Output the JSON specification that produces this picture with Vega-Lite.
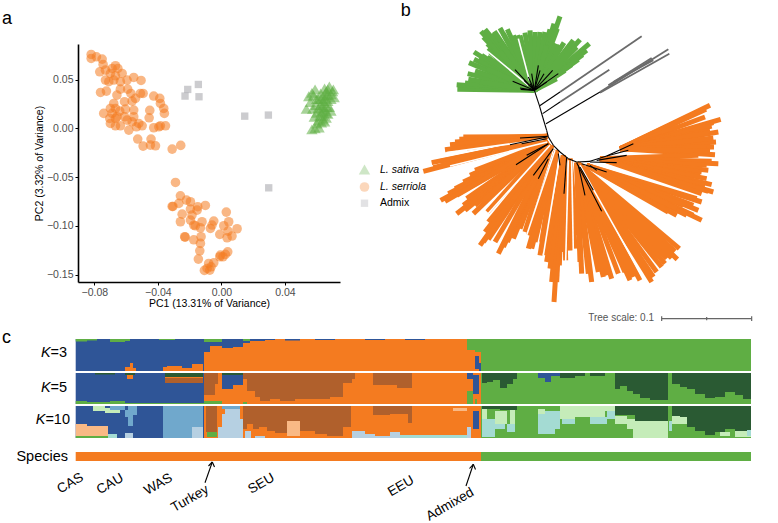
{"$schema":"https://vega.github.io/schema/vega-lite/v6.json","padding":{"left":1,"top":2,"right":0,"bottom":0},"spacing":6,"resolve":{"scale":{"color":"independent","shape":"independent","size":"independent"},"legend":{"color":"independent","shape":"independent","size":"independent"}},"config":{"view":{"stroke":null},"font":"Liberation Sans"},"vconcat":[{"hconcat":[
{"width":262,"height":238,"layer":[
{"data":{"values":[
{"sp":"L. serriola","pc1":-0.082,"pc2":0.0759},{"sp":"L. serriola","pc1":-0.082,"pc2":0.0718},{"sp":"L. serriola","pc1":-0.0787,"pc2":0.0735},{"sp":"L. serriola","pc1":-0.0751,"pc2":0.0711},{"sp":"L. serriola","pc1":-0.0745,"pc2":0.0656},{"sp":"L. serriola","pc1":-0.0766,"pc2":0.0581},{"sp":"L. serriola","pc1":-0.073,"pc2":0.0598},{"sp":"L. serriola","pc1":-0.0667,"pc2":0.0643},{"sp":"L. serriola","pc1":-0.0688,"pc2":0.0615},{"sp":"L. serriola","pc1":-0.0652,"pc2":0.0615},{"sp":"L. serriola","pc1":-0.0699,"pc2":0.0564},{"sp":"L. serriola","pc1":-0.0625,"pc2":0.0564},{"sp":"L. serriola","pc1":-0.0667,"pc2":0.054},{"sp":"L. serriola","pc1":-0.073,"pc2":0.0496},{"sp":"L. serriola","pc1":-0.0709,"pc2":0.0479},{"sp":"L. serriola","pc1":-0.0678,"pc2":0.0496},{"sp":"L. serriola","pc1":-0.0636,"pc2":0.0479},{"sp":"L. serriola","pc1":-0.0552,"pc2":0.0523},{"sp":"L. serriola","pc1":-0.0506,"pc2":0.0492},{"sp":"L. serriola","pc1":-0.0594,"pc2":0.0496},{"sp":"L. serriola","pc1":-0.059,"pc2":0.0403},{"sp":"L. serriola","pc1":-0.0636,"pc2":0.0403},{"sp":"L. serriola","pc1":-0.0761,"pc2":0.0369},{"sp":"L. serriola","pc1":-0.0724,"pc2":0.0383},{"sp":"L. serriola","pc1":-0.0658,"pc2":0.0342},{"sp":"L. serriola","pc1":-0.057,"pc2":0.0359},{"sp":"L. serriola","pc1":-0.051,"pc2":0.0359},{"sp":"L. serriola","pc1":-0.0493,"pc2":0.0359},{"sp":"L. serriola","pc1":-0.0426,"pc2":0.0332},{"sp":"L. serriola","pc1":-0.0388,"pc2":0.0308},{"sp":"L. serriola","pc1":-0.0541,"pc2":0.0308},{"sp":"L. serriola","pc1":-0.0678,"pc2":0.0256},{"sp":"L. serriola","pc1":-0.061,"pc2":0.0274},{"sp":"L. serriola","pc1":-0.0562,"pc2":0.028},{"sp":"L. serriola","pc1":-0.0384,"pc2":0.0256},{"sp":"L. serriola","pc1":-0.0363,"pc2":0.0205},{"sp":"L. serriola","pc1":-0.0359,"pc2":0.0154},{"sp":"L. serriola","pc1":-0.0451,"pc2":0.0185},{"sp":"L. serriola","pc1":-0.0455,"pc2":0.0109},{"sp":"L. serriola","pc1":-0.0699,"pc2":0.0205},{"sp":"L. serriola","pc1":-0.0667,"pc2":0.0205},{"sp":"L. serriola","pc1":-0.0741,"pc2":0.0154},{"sp":"L. serriola","pc1":-0.0688,"pc2":0.0154},{"sp":"L. serriola","pc1":-0.064,"pc2":0.0178},{"sp":"L. serriola","pc1":-0.0604,"pc2":0.0198},{"sp":"L. serriola","pc1":-0.0552,"pc2":0.0188},{"sp":"L. serriola","pc1":-0.061,"pc2":0.012},{"sp":"L. serriola","pc1":-0.0657,"pc2":0.012},{"sp":"L. serriola","pc1":-0.0552,"pc2":0.012},{"sp":"L. serriola","pc1":-0.0699,"pc2":0.0051},{"sp":"L. serriola","pc1":-0.0667,"pc2":0.0103},{"sp":"L. serriola","pc1":-0.0636,"pc2":0.0027},{"sp":"L. serriola","pc1":-0.0667,"pc2":0.0027},{"sp":"L. serriola","pc1":-0.0583,"pc2":-0.0017},{"sp":"L. serriola","pc1":-0.0562,"pc2":0.0068},{"sp":"L. serriola","pc1":-0.052,"pc2":0.0051},{"sp":"L. serriola","pc1":-0.0535,"pc2":0.0017},{"sp":"L. serriola","pc1":-0.0499,"pc2":0.0027},{"sp":"L. serriola","pc1":-0.0594,"pc2":0.0085},{"sp":"L. serriola","pc1":-0.0703,"pc2":0.0103},{"sp":"L. serriola","pc1":-0.0426,"pc2":0.0007},{"sp":"L. serriola","pc1":-0.0384,"pc2":0.0027},{"sp":"L. serriola","pc1":-0.0352,"pc2":0.0027},{"sp":"L. serriola","pc1":-0.0394,"pc2":0.0017},{"sp":"L. serriola","pc1":-0.0527,"pc2":-0.0109},{"sp":"L. serriola","pc1":-0.0443,"pc2":-0.0109},{"sp":"L. serriola","pc1":-0.0493,"pc2":-0.0181},{"sp":"L. serriola","pc1":-0.0447,"pc2":-0.0171},{"sp":"L. serriola","pc1":-0.0415,"pc2":-0.0178},{"sp":"L. serriola","pc1":-0.031,"pc2":-0.0212},{"sp":"L. serriola","pc1":-0.0256,"pc2":-0.0174},
{"sp":"L. serriola","pc1":-0.0289,"pc2":-0.0554},{"sp":"L. serriola","pc1":-0.0258,"pc2":-0.0691},{"sp":"L. serriola","pc1":-0.031,"pc2":-0.08},{"sp":"L. serriola","pc1":-0.0305,"pc2":-0.08},{"sp":"L. serriola","pc1":-0.0268,"pc2":-0.0769},{"sp":"L. serriola","pc1":-0.022,"pc2":-0.0735},{"sp":"L. serriola","pc1":-0.0195,"pc2":-0.0752},{"sp":"L. serriola","pc1":-0.0247,"pc2":-0.0879},{"sp":"L. serriola","pc1":-0.0258,"pc2":-0.0957},{"sp":"L. serriola","pc1":-0.0195,"pc2":-0.0827},{"sp":"L. serriola","pc1":-0.0149,"pc2":-0.0803},{"sp":"L. serriola","pc1":-0.0101,"pc2":-0.079},{"sp":"L. serriola","pc1":-0.0185,"pc2":-0.0889},{"sp":"L. serriola","pc1":-0.0195,"pc2":-0.094},{"sp":"L. serriola","pc1":-0.0153,"pc2":-0.0838},{"sp":"L. serriola","pc1":-0.0174,"pc2":-0.0991},{"sp":"L. serriola","pc1":-0.0122,"pc2":-0.0957},{"sp":"L. serriola","pc1":-0.0164,"pc2":-0.0998},{"sp":"L. serriola","pc1":-0.0132,"pc2":-0.1019},{"sp":"L. serriola","pc1":-0.0048,"pc2":-0.095},{"sp":"L. serriola","pc1":-0.0059,"pc2":-0.0991},{"sp":"L. serriola","pc1":-0.0069,"pc2":-0.1026},{"sp":"L. serriola","pc1":0.0031,"pc2":-0.0858},{"sp":"L. serriola","pc1":0.0046,"pc2":-0.0957},{"sp":"L. serriola","pc1":0.0015,"pc2":-0.0998},{"sp":"L. serriola","pc1":0.0042,"pc2":-0.1053},{"sp":"L. serriola","pc1":0.0099,"pc2":-0.1029},{"sp":"L. serriola","pc1":-0.001,"pc2":-0.1087},{"sp":"L. serriola","pc1":0.0067,"pc2":-0.1104},{"sp":"L. serriola","pc1":0.0036,"pc2":-0.1121},{"sp":"L. serriola","pc1":-0.0231,"pc2":-0.1111},{"sp":"L. serriola","pc1":-0.0228,"pc2":-0.1115},{"sp":"L. serriola","pc1":-0.0174,"pc2":-0.1142},{"sp":"L. serriola","pc1":-0.0128,"pc2":-0.1111},{"sp":"L. serriola","pc1":-0.0132,"pc2":-0.1179},{"sp":"L. serriola","pc1":-0.0136,"pc2":-0.1255},{"sp":"L. serriola","pc1":-0.0145,"pc2":-0.134},{"sp":"L. serriola","pc1":-0.001,"pc2":-0.1316},{"sp":"L. serriola","pc1":0.001,"pc2":-0.1316},{"sp":"L. serriola","pc1":0.0025,"pc2":-0.1292},{"sp":"L. serriola","pc1":0.004,"pc2":-0.1265},{"sp":"L. serriola","pc1":-0.0006,"pc2":-0.1299},{"sp":"L. serriola","pc1":-0.0048,"pc2":-0.1378},{"sp":"L. serriola","pc1":-0.008,"pc2":-0.1385},{"sp":"L. serriola","pc1":-0.0065,"pc2":-0.1419},{"sp":"L. serriola","pc1":-0.009,"pc2":-0.1436},{"sp":"L. serriola","pc1":-0.0107,"pc2":-0.1456},{"sp":"L. serriola","pc1":-0.0073,"pc2":-0.1453},
{"sp":"Admix","pc1":-0.0145,"pc2":0.0451},{"sp":"Admix","pc1":-0.0212,"pc2":0.04},{"sp":"Admix","pc1":-0.0229,"pc2":0.0332},{"sp":"Admix","pc1":-0.0141,"pc2":0.0325},{"sp":"Admix","pc1":0.0147,"pc2":0.0126},{"sp":"Admix","pc1":0.0296,"pc2":0.0137},{"sp":"Admix","pc1":0.0298,"pc2":-0.0609},
{"sp":"L. sativa","pc1":0.0535,"pc2":0.02},{"sp":"L. sativa","pc1":0.056,"pc2":0.027},{"sp":"L. sativa","pc1":0.057,"pc2":0.0365},{"sp":"L. sativa","pc1":0.059,"pc2":0.04},{"sp":"L. sativa","pc1":0.06,"pc2":0.03},{"sp":"L. sativa","pc1":0.061,"pc2":0.021},{"sp":"L. sativa","pc1":0.062,"pc2":0.013},{"sp":"L. sativa","pc1":0.063,"pc2":0.006},{"sp":"L. sativa","pc1":0.059,"pc2":0.0},{"sp":"L. sativa","pc1":0.057,"pc2":-0.001},{"sp":"L. sativa","pc1":0.06,"pc2":0.005},{"sp":"L. sativa","pc1":0.0615,"pc2":0.001},{"sp":"L. sativa","pc1":0.064,"pc2":0.009},{"sp":"L. sativa","pc1":0.064,"pc2":0.018},{"sp":"L. sativa","pc1":0.065,"pc2":0.026},{"sp":"L. sativa","pc1":0.066,"pc2":0.034},{"sp":"L. sativa","pc1":0.067,"pc2":0.04},{"sp":"L. sativa","pc1":0.068,"pc2":0.043},{"sp":"L. sativa","pc1":0.065,"pc2":0.041},{"sp":"L. sativa","pc1":0.07,"pc2":0.038},{"sp":"L. sativa","pc1":0.071,"pc2":0.032},{"sp":"L. sativa","pc1":0.069,"pc2":0.03},{"sp":"L. sativa","pc1":0.068,"pc2":0.022},{"sp":"L. sativa","pc1":0.067,"pc2":0.015},{"sp":"L. sativa","pc1":0.066,"pc2":0.011},{"sp":"L. sativa","pc1":0.069,"pc2":0.018},{"sp":"L. sativa","pc1":0.0655,"pc2":0.031},{"sp":"L. sativa","pc1":0.0625,"pc2":0.036},{"sp":"L. sativa","pc1":0.064,"pc2":0.033},{"sp":"L. sativa","pc1":0.061,"pc2":0.03},{"sp":"L. sativa","pc1":0.0595,"pc2":0.024},{"sp":"L. sativa","pc1":0.0625,"pc2":0.024},{"sp":"L. sativa","pc1":0.065,"pc2":0.02},{"sp":"L. sativa","pc1":0.066,"pc2":0.016},{"sp":"L. sativa","pc1":0.064,"pc2":0.013},{"sp":"L. sativa","pc1":0.066,"pc2":0.038},{"sp":"L. sativa","pc1":0.069,"pc2":0.035},{"sp":"L. sativa","pc1":0.0705,"pc2":0.04},{"sp":"L. sativa","pc1":0.067,"pc2":0.028},{"sp":"L. sativa","pc1":0.067,"pc2":0.034},{"sp":"L. sativa","pc1":0.064,"pc2":0.028},{"sp":"L. sativa","pc1":0.06,"pc2":0.016},{"sp":"L. sativa","pc1":0.061,"pc2":0.008},{"sp":"L. sativa","pc1":0.058,"pc2":0.034},{"sp":"L. sativa","pc1":0.055,"pc2":0.033},{"sp":"L. sativa","pc1":0.065,"pc2":0.007},{"sp":"L. sativa","pc1":0.0585,"pc2":0.012},{"sp":"L. sativa","pc1":0.0575,"pc2":0.02},{"sp":"L. sativa","pc1":0.0628,"pc2":0.017},{"sp":"L. sativa","pc1":0.0635,"pc2":0.0225},{"sp":"L. sativa","pc1":0.0625,"pc2":0.03},{"sp":"L. sativa","pc1":0.0665,"pc2":0.022}
]},
"mark":{"type":"point","filled":true,"opacity":0.55},
"encoding":{
"x":{"field":"pc1","type":"quantitative","scale":{"domain":[-0.0903,0.0747],"nice":false,"zero":false},"axis":{"values":[-0.08,-0.04,0,0.04],"format":".2f","title":"PC1 (13.31% of Variance)","grid":false,"domainColor":"#000","domainWidth":1.6,"tickColor":"#000","tickSize":3,"labelColor":"#4d4d4d","labelFontSize":10.5,"titleFontSize":10.5,"titleFontWeight":"normal","titleColor":"#000","titlePadding":1,"labelPadding":2}},
"y":{"field":"pc2","type":"quantitative","scale":{"domain":[-0.1575,0.0866],"nice":false,"zero":false},"axis":{"values":[-0.15,-0.1,-0.05,0,0.05],"format":".2f","title":"PC2 (3.32% of Variance)","grid":false,"domainColor":"#000","domainWidth":1.6,"tickColor":"#000","tickSize":3,"labelColor":"#4d4d4d","labelFontSize":10.5,"titleFontSize":10.5,"titleFontWeight":"normal","titleColor":"#000","titlePadding":2,"labelPadding":2}},
"color":{"field":"sp","type":"nominal","scale":{"domain":["L. sativa","L. serriola","Admix"],"range":["#5fae44","#f47b20","#a3a3a8"]},"legend":{"title":null,"orient":"none","legendX":280,"legendY":119,"labelFontSize":10.5,"labelColor":"#000","rowPadding":1,"labelOffset":9,"labelFontStyle":{"expr":"datum.label == 'Admix' ? 'normal' : 'italic'"},"symbolOpacity":0.55}},
"shape":{"field":"sp","type":"nominal","scale":{"domain":["L. sativa","L. serriola","Admix"],"range":["triangle-up","circle","square"]}},
"size":{"field":"sp","type":"nominal","scale":{"domain":["L. sativa","L. serriola","Admix"],"range":[130,54,120]}}
}},
{"data":{"values":[{"pc1":-0.1382,"pc2":0.1122,"t":"a"}]},"mark":{"type":"text","fontSize":18,"align":"left","baseline":"middle"},"encoding":{"x":{"field":"pc1","type":"quantitative"},"y":{"field":"pc2","type":"quantitative"},"text":{"field":"t"}}}
]},
{"width":378,"height":238,
"data":{"values":[
{"x":403,"y":265,"x2":172,"y2":262,"g":"g"},{"x":403,"y":265,"x2":170,"y2":248,"g":"g"},{"x":403,"y":265,"x2":195,"y2":243,"g":"g"},{"x":403,"y":265,"x2":205,"y2":232,"g":"g"},{"x":403,"y":265,"x2":203,"y2":215,"g":"g"},{"x":403,"y":265,"x2":225,"y2":207,"g":"g"},{"x":403,"y":265,"x2":207,"y2":182,"g":"g"},{"x":403,"y":265,"x2":222,"y2":172,"g":"g"},{"x":403,"y":265,"x2":235,"y2":172,"g":"g"},{"x":403,"y":265,"x2":222,"y2":150,"g":"g"},{"x":403,"y":265,"x2":245,"y2":160,"g":"g"},{"x":403,"y":265,"x2":262,"y2":165,"g":"g"},{"x":403,"y":265,"x2":270,"y2":150,"g":"g"},{"x":403,"y":265,"x2":265,"y2":138,"g":"g"},{"x":403,"y":265,"x2":262,"y2":125,"g":"g"},{"x":403,"y":265,"x2":250,"y2":105,"g":"g"},{"x":403,"y":265,"x2":243,"y2":88,"g":"g"},{"x":403,"y":265,"x2":255,"y2":82,"g":"g"},{"x":403,"y":265,"x2":275,"y2":95,"g":"g"},{"x":403,"y":265,"x2":283,"y2":88,"g":"g"},{"x":403,"y":265,"x2":300,"y2":78,"g":"g"},{"x":403,"y":265,"x2":310,"y2":95,"g":"g"},{"x":403,"y":265,"x2":322,"y2":82,"g":"g"},{"x":403,"y":265,"x2":340,"y2":100,"g":"g"},{"x":403,"y":265,"x2":352,"y2":100,"g":"g"},{"x":403,"y":265,"x2":360,"y2":100,"g":"g"},{"x":403,"y":265,"x2":375,"y2":92,"g":"g"},{"x":403,"y":265,"x2":390,"y2":85,"g":"g"},{"x":403,"y":265,"x2":405,"y2":90,"g":"g"},{"x":403,"y":265,"x2":420,"y2":90,"g":"g"},{"x":403,"y":265,"x2":435,"y2":90,"g":"g"},{"x":403,"y":265,"x2":450,"y2":82,"g":"g"},{"x":403,"y":265,"x2":462,"y2":65,"g":"g"},{"x":403,"y":265,"x2":480,"y2":43,"g":"g"},{"x":403,"y":265,"x2":472,"y2":80,"g":"g"},{"x":403,"y":265,"x2":468,"y2":125,"g":"g"},{"x":403,"y":265,"x2":480,"y2":130,"g":"g"},{"x":403,"y":265,"x2":492,"y2":122,"g":"g"},{"x":403,"y":265,"x2":510,"y2":130,"g":"g"},{"x":403,"y":265,"x2":520,"y2":115,"g":"g"},{"x":403,"y":265,"x2":540,"y2":113,"g":"g"},{"x":403,"y":265,"x2":530,"y2":135,"g":"g"},{"x":403,"y":265,"x2":568,"y2":125,"g":"g"},{"x":403,"y":265,"x2":560,"y2":145,"g":"g"},{"x":403,"y":265,"x2":548,"y2":158,"g":"g"},{"x":403,"y":265,"x2":535,"y2":172,"g":"g"},{"x":403,"y":265,"x2":515,"y2":188,"g":"g"},{"x":403,"y":265,"x2":495,"y2":205,"g":"g"},{"x":403,"y":265,"x2":470,"y2":230,"g":"g"},
{"x":403,"y":265,"x2":300,"y2":150,"g":"g"},{"x":403,"y":265,"x2":240,"y2":240,"g":"g"},{"x":403,"y":265,"x2":260,"y2":200,"g":"g"},{"x":403,"y":265,"x2":300,"y2":120,"g":"g"},{"x":403,"y":265,"x2":340,"y2":130,"g":"g"},{"x":403,"y":265,"x2":440,"y2":130,"g":"g"},{"x":403,"y":265,"x2":500,"y2":160,"g":"g"},
{"x":443,"y":403,"x2":190,"y2":405,"g":"o"},{"x":443,"y":403,"x2":178,"y2":412,"g":"o"},{"x":443,"y":403,"x2":165,"y2":420,"g":"o"},{"x":443,"y":403,"x2":150,"y2":428,"g":"o"},{"x":443,"y":403,"x2":135,"y2":443,"g":"o"},{"x":443,"y":403,"x2":170,"y2":440,"g":"o"},{"x":443,"y":403,"x2":200,"y2":438,"g":"o"},
{"x":440,"y":412,"x2":95,"y2":482,"g":"o"},{"x":440,"y":412,"x2":120,"y2":478,"g":"o"},{"x":440,"y":412,"x2":70,"y2":508,"g":"o"},{"x":440,"y":412,"x2":100,"y2":497,"g":"o"},{"x":440,"y":412,"x2":150,"y2":478,"g":"o"},{"x":440,"y":412,"x2":165,"y2":470,"g":"o"},
{"x":445,"y":420,"x2":225,"y2":505,"g":"o"},{"x":445,"y":420,"x2":210,"y2":520,"g":"o"},{"x":445,"y":420,"x2":190,"y2":540,"g":"o"},{"x":445,"y":420,"x2":165,"y2":560,"g":"o"},{"x":445,"y":420,"x2":145,"y2":575,"g":"o"},{"x":445,"y":420,"x2":122,"y2":595,"g":"o"},{"x":445,"y":420,"x2":135,"y2":598,"g":"o"},{"x":445,"y":420,"x2":170,"y2":580,"g":"o"},{"x":445,"y":420,"x2":200,"y2":590,"g":"o"},{"x":445,"y":420,"x2":190,"y2":610,"g":"o"},{"x":445,"y":420,"x2":170,"y2":635,"g":"o"},{"x":445,"y":420,"x2":195,"y2":625,"g":"o"},{"x":445,"y":420,"x2":220,"y2":635,"g":"o"},{"x":445,"y":420,"x2":225,"y2":610,"g":"o"},{"x":445,"y":420,"x2":245,"y2":600,"g":"o"},{"x":445,"y":425,"x2":262,"y2":630,"g":"o"},
{"x":455,"y":430,"x2":375,"y2":690,"g":"o"},{"x":455,"y":430,"x2":360,"y2":680,"g":"o"},{"x":455,"y":430,"x2":340,"y2":710,"g":"o"},{"x":455,"y":430,"x2":322,"y2":720,"g":"o"},{"x":455,"y":430,"x2":310,"y2":735,"g":"o"},{"x":455,"y":430,"x2":295,"y2":755,"g":"o"},{"x":455,"y":430,"x2":285,"y2":720,"g":"o"},{"x":455,"y":430,"x2":265,"y2":712,"g":"o"},{"x":455,"y":430,"x2":250,"y2":720,"g":"o"},{"x":455,"y":430,"x2":240,"y2":730,"g":"o"},{"x":455,"y":430,"x2":255,"y2":690,"g":"o"},{"x":455,"y":430,"x2":265,"y2":660,"g":"o"},
{"x":470,"y":445,"x2":432,"y2":750,"g":"o"},{"x":470,"y":445,"x2":420,"y2":760,"g":"o"},{"x":470,"y":445,"x2":425,"y2":720,"g":"o"},{"x":470,"y":445,"x2":405,"y2":720,"g":"o"},{"x":470,"y":445,"x2":395,"y2":740,"g":"o"},{"x":470,"y":445,"x2":385,"y2":740,"g":"o"},{"x":470,"y":445,"x2":385,"y2":700,"g":"o"},
{"x":490,"y":460,"x2":510,"y2":745,"g":"o"},{"x":490,"y":460,"x2":497,"y2":775,"g":"o"},{"x":490,"y":460,"x2":490,"y2":750,"g":"o"},{"x":490,"y":460,"x2":478,"y2":790,"g":"o"},{"x":490,"y":460,"x2":470,"y2":840,"g":"o"},{"x":490,"y":460,"x2":462,"y2":900,"g":"o"},{"x":490,"y":460,"x2":455,"y2":840,"g":"o"},{"x":490,"y":460,"x2":450,"y2":800,"g":"o"},{"x":490,"y":460,"x2":440,"y2":780,"g":"o"},{"x":490,"y":460,"x2":438,"y2":760,"g":"o"},
{"x":510,"y":470,"x2":525,"y2":740,"g":"o"},{"x":510,"y":470,"x2":512,"y2":745,"g":"o"},{"x":510,"y":470,"x2":530,"y2":700,"g":"o"},
{"x":530,"y":482,"x2":720,"y2":835,"g":"o"},{"x":530,"y":482,"x2":700,"y2":825,"g":"o"},{"x":530,"y":482,"x2":690,"y2":835,"g":"o"},{"x":530,"y":482,"x2":675,"y2":810,"g":"o"},{"x":530,"y":482,"x2":655,"y2":815,"g":"o"},{"x":530,"y":482,"x2":635,"y2":830,"g":"o"},{"x":530,"y":482,"x2":620,"y2":820,"g":"o"},{"x":530,"y":482,"x2":610,"y2":825,"g":"o"},{"x":530,"y":482,"x2":595,"y2":810,"g":"o"},{"x":530,"y":482,"x2":575,"y2":840,"g":"o"},{"x":530,"y":482,"x2":565,"y2":815,"g":"o"},{"x":530,"y":482,"x2":545,"y2":815,"g":"o"},{"x":530,"y":482,"x2":540,"y2":780,"g":"o"},
{"x":535,"y":485,"x2":838,"y2":740,"g":"o"},{"x":535,"y":485,"x2":825,"y2":748,"g":"o"},{"x":535,"y":485,"x2":832,"y2":772,"g":"o"},{"x":535,"y":485,"x2":815,"y2":768,"g":"o"},{"x":535,"y":485,"x2":800,"y2":770,"g":"o"},{"x":535,"y":485,"x2":795,"y2":785,"g":"o"},{"x":535,"y":485,"x2":785,"y2":795,"g":"o"},{"x":535,"y":485,"x2":770,"y2":810,"g":"o"},{"x":535,"y":485,"x2":760,"y2":825,"g":"o"},{"x":535,"y":485,"x2":755,"y2":840,"g":"o"},
{"x":660,"y":440,"x2":930,"y2":310,"g":"o"},{"x":660,"y":440,"x2":905,"y2":325,"g":"o"},{"x":660,"y":440,"x2":918,"y2":322,"g":"o"},{"x":660,"y":440,"x2":915,"y2":345,"g":"o"},{"x":660,"y":440,"x2":962,"y2":352,"g":"o"},{"x":660,"y":440,"x2":940,"y2":362,"g":"o"},{"x":660,"y":440,"x2":935,"y2":372,"g":"o"},{"x":660,"y":440,"x2":955,"y2":390,"g":"o"},{"x":660,"y":440,"x2":930,"y2":385,"g":"o"},{"x":660,"y":440,"x2":925,"y2":392,"g":"o"},{"x":660,"y":440,"x2":948,"y2":420,"g":"o"},{"x":660,"y":440,"x2":940,"y2":408,"g":"o"},{"x":660,"y":440,"x2":942,"y2":435,"g":"o"},{"x":660,"y":440,"x2":920,"y2":440,"g":"o"},{"x":660,"y":440,"x2":945,"y2":458,"g":"o"},{"x":660,"y":440,"x2":930,"y2":448,"g":"o"},
{"x":600,"y":470,"x2":895,"y2":460,"g":"o"},{"x":600,"y":470,"x2":955,"y2":485,"g":"o"},{"x":600,"y":470,"x2":935,"y2":478,"g":"o"},{"x":600,"y":470,"x2":920,"y2":490,"g":"o"},{"x":600,"y":470,"x2":925,"y2":505,"g":"o"},{"x":600,"y":470,"x2":905,"y2":510,"g":"o"},{"x":600,"y":470,"x2":900,"y2":522,"g":"o"},{"x":600,"y":470,"x2":920,"y2":530,"g":"o"},{"x":600,"y":470,"x2":935,"y2":548,"g":"o"},{"x":600,"y":470,"x2":915,"y2":552,"g":"o"},{"x":600,"y":470,"x2":940,"y2":570,"g":"o"},{"x":600,"y":470,"x2":925,"y2":568,"g":"o"},{"x":600,"y":470,"x2":905,"y2":575,"g":"o"},
{"x":560,"y":490,"x2":905,"y2":600,"g":"o"},{"x":560,"y":490,"x2":890,"y2":590,"g":"o"},{"x":560,"y":490,"x2":880,"y2":610,"g":"o"},{"x":560,"y":490,"x2":895,"y2":625,"g":"o"},{"x":560,"y":490,"x2":860,"y2":605,"g":"o"},{"x":560,"y":490,"x2":850,"y2":610,"g":"o"},{"x":560,"y":490,"x2":905,"y2":655,"g":"o"},{"x":560,"y":490,"x2":880,"y2":640,"g":"o"},{"x":560,"y":490,"x2":860,"y2":640,"g":"o"},{"x":560,"y":490,"x2":830,"y2":640,"g":"o"},{"x":560,"y":490,"x2":830,"y2":620,"g":"o"},{"x":560,"y":490,"x2":805,"y2":630,"g":"o"},
{"x":355,"y":110,"x2":388,"y2":235,"g":"w"},{"x":265,"y":150,"x2":385,"y2":250,"g":"w"},{"x":140,"y":452,"x2":430,"y2":412,"g":"w"},{"x":150,"y":492,"x2":442,"y2":420,"g":"w"},{"x":260,"y":640,"x2":450,"y2":430,"g":"w"},{"x":380,"y":700,"x2":465,"y2":445,"g":"w"},{"x":430,"y":760,"x2":480,"y2":455,"g":"w"},{"x":497,"y":780,"x2":505,"y2":475,"g":"w"},{"x":520,"y":750,"x2":515,"y2":475,"g":"w"},{"x":735,"y":838,"x2":540,"y2":490,"g":"w"},
{"x":418,"y":312,"x2":480,"y2":270,"g":"k"},{"x":428,"y":335,"x2":480,"y2":300,"g":"k"},{"x":438,"y":365,"x2":600,"y2":270,"g":"k"},{"x":403,"y":265,"x2":418,"y2":310,"g":"k"},{"x":418,"y":310,"x2":428,"y2":345,"g":"k"},{"x":428,"y":345,"x2":440,"y2":385,"g":"k"},{"x":440,"y":385,"x2":445,"y2":405,"g":"k"},{"x":445,"y":405,"x2":460,"y2":430,"g":"k"},{"x":460,"y":430,"x2":480,"y2":450,"g":"k"},{"x":480,"y":450,"x2":505,"y2":470,"g":"k"},{"x":505,"y":470,"x2":530,"y2":480,"g":"k"},{"x":530,"y":480,"x2":570,"y2":478,"g":"k"},{"x":570,"y":478,"x2":620,"y2":462,"g":"k"},{"x":620,"y":462,"x2":700,"y2":425,"g":"k"},
{"x":403,"y":265,"x2":338,"y2":238,"g":"k"},{"x":403,"y":265,"x2":345,"y2":203,"g":"k"},{"x":403,"y":265,"x2":360,"y2":258,"g":"k"},{"x":403,"y":265,"x2":372,"y2":235,"g":"k"},{"x":403,"y":265,"x2":385,"y2":225,"g":"k"},{"x":403,"y":265,"x2":395,"y2":215,"g":"k"},{"x":403,"y":265,"x2":415,"y2":190,"g":"k"},{"x":403,"y":265,"x2":420,"y2":205,"g":"k"},{"x":403,"y":265,"x2":432,"y2":215,"g":"k"},{"x":403,"y":265,"x2":458,"y2":205,"g":"k"},{"x":403,"y":265,"x2":475,"y2":215,"g":"k"},{"x":403,"y":265,"x2":440,"y2":240,"g":"k"},{"x":403,"y":265,"x2":362,"y2":262,"g":"k"},{"x":403,"y":265,"x2":390,"y2":245,"g":"k"},
{"x":440,"y":405,"x2":330,"y2":428,"g":"k"},{"x":443,"y":403,"x2":360,"y2":408,"g":"k"},{"x":440,"y":410,"x2":365,"y2":425,"g":"k"},{"x":445,"y":425,"x2":348,"y2":488,"g":"k"},{"x":445,"y":425,"x2":380,"y2":460,"g":"k"},{"x":460,"y":440,"x2":400,"y2":520,"g":"k"},{"x":445,"y":470,"x2":415,"y2":530,"g":"k"},{"x":500,"y":465,"x2":492,"y2":575,"g":"k"},{"x":475,"y":455,"x2":480,"y2":490,"g":"k"},{"x":530,"y":482,"x2":605,"y2":628,"g":"k"},{"x":535,"y":490,"x2":555,"y2":580,"g":"k"},{"x":540,"y":495,"x2":580,"y2":565,"g":"k"},{"x":545,"y":485,"x2":620,"y2":510,"g":"k"},{"x":570,"y":490,"x2":590,"y2":505,"g":"k"},{"x":570,"y":480,"x2":650,"y2":482,"g":"k"},{"x":590,"y":475,"x2":680,"y2":460,"g":"k"},{"x":620,"y":462,"x2":685,"y2":445,"g":"k"},
{"x":480,"y":270,"x2":725,"y2":103,"g":"y"},{"x":480,"y":300,"x2":628,"y2":203,"g":"y"},{"x":600,"y":270,"x2":805,"y2":142,"g":"y"},{"x":600,"y":272,"x2":808,"y2":155,"g":"y"},{"x":640,"y":240,"x2":760,"y2":175,"g":"y"},{"x":625,"y":250,"x2":755,"y2":168,"g":"y"},
{"x":785,"y":950,"x2":1055,"y2":950,"g":"s"},{"x":785,"y":943,"x2":785,"y2":957,"g":"s"},{"x":920,"y":945,"x2":920,"y2":955,"g":"s"},{"x":1055,"y":943,"x2":1055,"y2":957,"g":"s"}
]},
"encoding":{"x":{"field":"x","type":"quantitative","scale":{"domain":[0,1134],"nice":false,"zero":false},"axis":null},"y":{"field":"y","type":"quantitative","scale":{"domain":[840,126],"nice":false,"zero":false},"axis":null},"x2":{"field":"x2"},"y2":{"field":"y2"}},
"layer":[
{"transform":[{"filter":"datum.g=='g'"}],"mark":{"type":"rule","color":"#5fae44","strokeWidth":5}},
{"transform":[{"filter":"datum.g=='o'"}],"mark":{"type":"rule","color":"#f47b20","strokeWidth":5}},
{"transform":[{"filter":"datum.g=='w'"}],"mark":{"type":"rule","color":"#ffffff","strokeWidth":1.6}},
{"transform":[{"filter":"datum.g=='k'"}],"mark":{"type":"rule","color":"#000000","strokeWidth":1.1}},
{"transform":[{"filter":"datum.g=='y'"}],"mark":{"type":"rule","color":"#6b6b6b","strokeWidth":1.8}},
{"transform":[{"filter":"datum.g=='s'"}],"mark":{"type":"rule","color":"#666666","strokeWidth":1.2}},
{"data":{"values":[{"x":2,"y":28,"t":"b"}]},"mark":{"type":"text","fontSize":18,"align":"left","baseline":"middle"},"encoding":{"x":{"field":"x","type":"quantitative"},"y":{"field":"y","type":"quantitative"},"x2":null,"y2":null,"text":{"field":"t"}}},
{"data":{"values":[{"x":762,"y":947,"t":"Tree scale: 0.1"}]},"mark":{"type":"text","fontSize":10,"align":"right","baseline":"middle","color":"#555"},"encoding":{"x":{"field":"x","type":"quantitative"},"y":{"field":"y","type":"quantitative"},"x2":null,"y2":null,"text":{"field":"t"}}}
]}
],"spacing":60,"bounds":"flush"},
{"width":674,"height":122,
"encoding":{"x":{"field":"a","type":"quantitative","scale":{"domain":[3,677],"nice":false,"zero":false},"axis":null},"y":{"field":"b","type":"quantitative","scale":{"domain":[122,0],"nice":false,"zero":false},"axis":null}},
"layer":[
{"data":{"values":[
{"a":0.7,"e":129,"b":0,"d":32,"c":"A"},{"a":129,"e":406,"b":0,"d":32,"c":"B"},{"a":406,"e":676,"b":0,"d":32,"c":"C"},
{"a":0.7,"e":12,"b":0,"d":2.5,"c":"C"},{"a":12,"e":22,"b":0,"d":1.5,"c":"C"},{"a":35,"e":50,"b":0,"d":3,"c":"C"},{"a":50,"e":55,"b":0,"d":2,"c":"C"},{"a":84,"e":100,"b":0,"d":1,"c":"C"},{"a":50,"e":55,"b":28,"d":32,"c":"B"},{"a":55,"e":58,"b":24,"d":32,"c":"B"},{"a":58,"e":61,"b":29,"d":32,"c":"B"},{"a":88,"e":92,"b":28,"d":32,"c":"B"},{"a":92,"e":107,"b":27,"d":32,"c":"B"},{"a":107,"e":117,"b":29,"d":32,"c":"B"},{"a":117,"e":128,"b":25,"d":32,"c":"B"},
{"a":129,"e":147,"b":0,"d":3,"c":"C"},{"a":129,"e":147,"b":3,"d":7,"c":"A"},{"a":129,"e":135,"b":7,"d":13,"c":"A"},{"a":147,"e":158,"b":0,"d":9,"c":"A"},{"a":158,"e":168,"b":0,"d":8,"c":"A"},{"a":168,"e":175,"b":0,"d":4,"c":"A"},{"a":168,"e":175,"b":0,"d":2,"c":"C"},{"a":175,"e":190,"b":0,"d":2,"c":"A"},{"a":180,"e":200,"b":0,"d":1,"c":"A"},{"a":210,"e":225,"b":0,"d":1.5,"c":"A"},{"a":240,"e":260,"b":0,"d":1,"c":"A"},{"a":290,"e":310,"b":0,"d":1,"c":"A"},{"a":330,"e":350,"b":0,"d":1,"c":"A"},
{"a":392,"e":400,"b":0,"d":11,"c":"C"},{"a":400,"e":406,"b":0,"d":13,"c":"C"},{"a":400,"e":404,"b":17,"d":30,"c":"A"},{"a":404,"e":406,"b":24,"d":32,"c":"A"},
{"a":0.7,"e":129,"b":34,"d":65,"c":"A"},{"a":129,"e":406,"b":34,"d":65,"c":"B"},{"a":406,"e":676,"b":34,"d":65,"c":"C"},
{"a":0.7,"e":12,"b":62,"d":65,"c":"C"},{"a":12,"e":35,"b":63,"d":65,"c":"C"},{"a":35,"e":50,"b":62,"d":65,"c":"C"},{"a":50,"e":129,"b":64,"d":65,"c":"C"},{"a":20,"e":40,"b":34,"d":35.5,"c":"D"},{"a":50,"e":60,"b":34,"d":36,"c":"D"},{"a":52,"e":58,"b":36,"d":40,"c":"B"},{"a":90,"e":128,"b":34,"d":38,"c":"D"},{"a":90,"e":128,"b":38,"d":39,"c":"B"},{"a":90,"e":128,"b":39,"d":44,"c":"E"},
{"a":129,"e":140,"b":34,"d":56,"c":"E"},{"a":140,"e":143,"b":34,"d":45,"c":"E"},{"a":129,"e":147,"b":62,"d":65,"c":"C"},{"a":147,"e":168,"b":34,"d":36,"c":"D"},{"a":147,"e":158,"b":36,"d":50,"c":"A"},{"a":158,"e":168,"b":36,"d":46,"c":"A"},
{"a":168,"e":172,"b":34,"d":40,"c":"E"},{"a":172,"e":180,"b":34,"d":52,"c":"E"},{"a":180,"e":185,"b":34,"d":58,"c":"E"},{"a":185,"e":195,"b":34,"d":62,"c":"E"},{"a":195,"e":205,"b":34,"d":60,"c":"E"},{"a":205,"e":220,"b":34,"d":62,"c":"E"},{"a":220,"e":240,"b":34,"d":60,"c":"E"},{"a":240,"e":255,"b":34,"d":60,"c":"E"},{"a":255,"e":268,"b":34,"d":58,"c":"E"},{"a":168,"e":172,"b":63,"d":65,"c":"C"},
{"a":268,"e":277,"b":34,"d":44,"c":"E"},{"a":277,"e":280,"b":34,"d":40,"c":"E"},{"a":298,"e":315,"b":34,"d":46,"c":"E"},{"a":315,"e":322,"b":34,"d":46,"c":"E"},{"a":322,"e":337,"b":34,"d":49,"c":"E"},
{"a":392,"e":398,"b":52,"d":65,"c":"C"},{"a":392,"e":398,"b":34,"d":40,"c":"A"},{"a":398,"e":404,"b":36,"d":55,"c":"A"},{"a":400,"e":402,"b":60,"d":65,"c":"C"},
{"a":407,"e":412,"b":34,"d":44,"c":"D"},{"a":412,"e":418,"b":34,"d":43,"c":"D"},{"a":418,"e":425,"b":34,"d":41,"c":"D"},{"a":425,"e":432,"b":34,"d":49,"c":"D"},{"a":432,"e":438,"b":34,"d":45,"c":"D"},{"a":438,"e":442,"b":34,"d":40,"c":"D"},{"a":463,"e":470,"b":34,"d":39,"c":"A"},{"a":470,"e":476,"b":34,"d":43,"c":"A"},{"a":476,"e":485,"b":34,"d":37,"c":"A"},{"a":485,"e":500,"b":34,"d":39,"c":"D"},{"a":500,"e":510,"b":34,"d":37,"c":"D"},{"a":515,"e":530,"b":34,"d":37,"c":"D"},
{"a":540,"e":545,"b":34,"d":50,"c":"D"},{"a":545,"e":552,"b":34,"d":47,"c":"D"},{"a":552,"e":558,"b":34,"d":52,"c":"D"},{"a":558,"e":565,"b":34,"d":55,"c":"D"},{"a":565,"e":575,"b":34,"d":59,"c":"D"},{"a":575,"e":593,"b":34,"d":61,"c":"D"},{"a":597,"e":605,"b":34,"d":45,"c":"D"},{"a":605,"e":612,"b":34,"d":48,"c":"D"},{"a":612,"e":620,"b":34,"d":50,"c":"D"},{"a":620,"e":630,"b":34,"d":55,"c":"D"},{"a":630,"e":640,"b":34,"d":59,"c":"D"},{"a":640,"e":650,"b":34,"d":58,"c":"D"},{"a":650,"e":660,"b":34,"d":53,"c":"D"},{"a":660,"e":668,"b":34,"d":56,"c":"D"},{"a":668,"e":676,"b":34,"d":60,"c":"D"},
{"a":0.7,"e":129,"b":67,"d":99,"c":"A"},{"a":129,"e":406,"b":67,"d":99,"c":"B"},{"a":406,"e":676,"b":67,"d":99,"c":"C"},
{"a":18,"e":30,"b":67,"d":72,"c":"I"},{"a":30,"e":45,"b":69,"d":74,"c":"I"},{"a":35,"e":50,"b":67,"d":71,"c":"F"},{"a":50,"e":53,"b":71,"d":78,"c":"F"},{"a":53,"e":58,"b":67,"d":87,"c":"F"},{"a":58,"e":62,"b":67,"d":76,"c":"F"},{"a":0.7,"e":12,"b":85,"d":97,"c":"H"},{"a":12,"e":33,"b":87,"d":97,"c":"H"},{"a":0.7,"e":33,"b":97,"d":99,"c":"C"},{"a":33,"e":42,"b":95,"d":99,"c":"J"},{"a":50,"e":58,"b":94,"d":99,"c":"G"},
{"a":88,"e":117,"b":67,"d":99,"c":"F"},{"a":117,"e":128,"b":67,"d":88,"c":"F"},{"a":117,"e":128,"b":88,"d":99,"c":"G"},
{"a":131,"e":142,"b":67,"d":93,"c":"E"},{"a":132,"e":142,"b":93,"d":98,"c":"C"},{"a":143,"e":147,"b":88,"d":99,"c":"G"},{"a":147,"e":165,"b":67,"d":70,"c":"F"},{"a":147,"e":150,"b":75,"d":99,"c":"G"},{"a":150,"e":168,"b":70,"d":99,"c":"G"},{"a":165,"e":168,"b":67,"d":80,"c":"B"},
{"a":168,"e":172,"b":67,"d":90,"c":"E"},{"a":172,"e":178,"b":67,"d":85,"c":"E"},{"a":178,"e":184,"b":67,"d":90,"c":"E"},{"a":184,"e":192,"b":67,"d":88,"c":"E"},{"a":192,"e":200,"b":67,"d":92,"c":"E"},{"a":200,"e":212,"b":67,"d":94,"c":"E"},{"a":212,"e":225,"b":67,"d":82,"c":"E"},{"a":212,"e":225,"b":82,"d":97,"c":"H"},{"a":225,"e":240,"b":67,"d":92,"c":"E"},{"a":240,"e":252,"b":67,"d":95,"c":"E"},{"a":252,"e":268,"b":67,"d":97,"c":"E"},{"a":170,"e":176,"b":92,"d":99,"c":"G"},{"a":180,"e":190,"b":97,"d":99,"c":"G"},
{"a":268,"e":276,"b":67,"d":88,"c":"E"},{"a":298,"e":315,"b":67,"d":76,"c":"E"},{"a":277,"e":290,"b":92,"d":99,"c":"G"},{"a":290,"e":300,"b":95,"d":99,"c":"G"},{"a":300,"e":315,"b":97,"d":99,"c":"G"},{"a":315,"e":325,"b":93,"d":99,"c":"G"},{"a":325,"e":392,"b":96,"d":99,"c":"J"},{"a":378,"e":392,"b":69,"d":72,"c":"H"},{"a":315,"e":337,"b":67,"d":75,"c":"E"},{"a":333,"e":337,"b":75,"d":84,"c":"E"},
{"a":392,"e":396,"b":88,"d":99,"c":"G"},{"a":398,"e":404,"b":72,"d":90,"c":"A"},
{"a":407,"e":425,"b":67,"d":70,"c":"D"},{"a":407,"e":412,"b":70,"d":80,"c":"I"},{"a":407,"e":420,"b":80,"d":98,"c":"J"},{"a":420,"e":432,"b":72,"d":85,"c":"I"},{"a":420,"e":430,"b":85,"d":90,"c":"J"},{"a":432,"e":440,"b":85,"d":93,"c":"J"},{"a":435,"e":440,"b":70,"d":85,"c":"I"},{"a":425,"e":442,"b":67,"d":71,"c":"D"},
{"a":463,"e":470,"b":70,"d":75,"c":"I"},{"a":463,"e":480,"b":75,"d":95,"c":"J"},{"a":470,"e":480,"b":72,"d":75,"c":"J"},{"a":480,"e":485,"b":72,"d":90,"c":"J"},{"a":485,"e":500,"b":67,"d":80,"c":"I"},{"a":487,"e":500,"b":80,"d":85,"c":"J"},{"a":500,"e":530,"b":67,"d":78,"c":"I"},{"a":515,"e":532,"b":78,"d":85,"c":"J"},{"a":530,"e":540,"b":67,"d":72,"c":"I"},{"a":532,"e":540,"b":72,"d":80,"c":"J"},
{"a":540,"e":552,"b":77,"d":85,"c":"I"},{"a":552,"e":560,"b":80,"d":90,"c":"I"},{"a":558,"e":593,"b":82,"d":99,"c":"I"},{"a":540,"e":560,"b":67,"d":76,"c":"D"},{"a":560,"e":593,"b":67,"d":82,"c":"D"},{"a":594,"e":597,"b":82,"d":92,"c":"J"},{"a":597,"e":612,"b":77,"d":85,"c":"I"},{"a":597,"e":605,"b":67,"d":77,"c":"D"},{"a":605,"e":612,"b":67,"d":78,"c":"D"},{"a":612,"e":620,"b":67,"d":88,"c":"D"},{"a":620,"e":630,"b":67,"d":92,"c":"D"},{"a":630,"e":640,"b":67,"d":96,"c":"D"},{"a":640,"e":650,"b":67,"d":93,"c":"D"},{"a":650,"e":660,"b":67,"d":90,"c":"D"},{"a":660,"e":676,"b":67,"d":92,"c":"D"},{"a":645,"e":655,"b":93,"d":97,"c":"I"},{"a":660,"e":676,"b":92,"d":98,"c":"I"},{"a":672,"e":676,"b":91,"d":97,"c":"J"},
{"a":0.7,"e":406,"b":113,"d":122,"c":"B"},{"a":406,"e":676,"b":113,"d":122,"c":"C"}
]},"mark":{"type":"rect"},"encoding":{"x2":{"field":"e"},"y2":{"field":"d"},"color":{"field":"c","type":"nominal","legend":null,"scale":{"domain":["A","B","C","D","E","F","G","H","I","J"],"range":["#2f5597","#f47b20","#5fae44","#2a5a33","#b0602c","#70a8cc","#b6d0e2","#f9b985","#c5ecb9","#a4dbd3"]}}}},
{"data":{"values":[{"a":35},{"a":84},{"a":129},{"a":147},{"a":268},{"a":392}]},"mark":{"type":"rule","color":"#000","strokeDash":[3,2],"strokeWidth":1},"encoding":{"y":{"datum":0},"y2":{"datum":122}}},
{"data":{"values":[{"a":406},{"a":676}]},"mark":{"type":"rule","color":"#222","strokeWidth":1.2},"encoding":{"y":{"datum":0},"y2":{"datum":122}}},
{"data":{"values":[{"a":130,"b":143.7,"e":137.3,"d":123},{"a":137.3,"b":123,"e":133.5,"d":127},{"a":137.3,"b":123,"e":139.5,"d":128},{"a":391,"b":147,"e":398.3,"d":125.3},{"a":398.3,"b":125.3,"e":394.5,"d":129.5},{"a":398.3,"b":125.3,"e":400.5,"d":130.5}]},"mark":{"type":"rule","color":"#000","strokeWidth":1.1},"encoding":{"x2":{"field":"e"},"y2":{"field":"d"}}},
{"data":{"values":[{"a":-8,"b":13.7,"t":"=3"},{"a":-8,"b":48.7,"t":"=5"},{"a":-5,"b":81.3,"t":"=10"},{"a":-7,"b":118,"t":"Species"}]},"mark":{"type":"text","fontSize":14.5,"align":"right","baseline":"middle"},"encoding":{"text":{"field":"t"}}},
{"data":{"values":[{"a":-24.3,"b":13.7,"t":"K"},{"a":-24.3,"b":48.7,"t":"K"},{"a":-29.7,"b":81.3,"t":"K"}]},"mark":{"type":"text","fontSize":14.5,"align":"right","baseline":"middle","fontStyle":"italic"},"encoding":{"text":{"field":"t"}}},
{"data":{"values":[{"a":-4.7,"b":144.3,"t":"CAS"},{"a":35,"b":145,"t":"CAU"},{"a":83.3,"b":145.3,"t":"WAS"},{"a":115,"b":159.7,"t":"Turkey"},{"a":186.3,"b":144.7,"t":"SEU"},{"a":326,"b":147,"t":"EEU"},{"a":375,"b":165.3,"t":"Admixed"}]},"mark":{"type":"text","fontSize":13.5,"align":"center","baseline":"middle","angle":330},"encoding":{"text":{"field":"t"}}},
{"data":{"values":[{"a":-73,"b":-1,"t":"c"}]},"mark":{"type":"text","fontSize":18,"align":"left","baseline":"middle"},"encoding":{"text":{"field":"t"}}}
]}
]}
